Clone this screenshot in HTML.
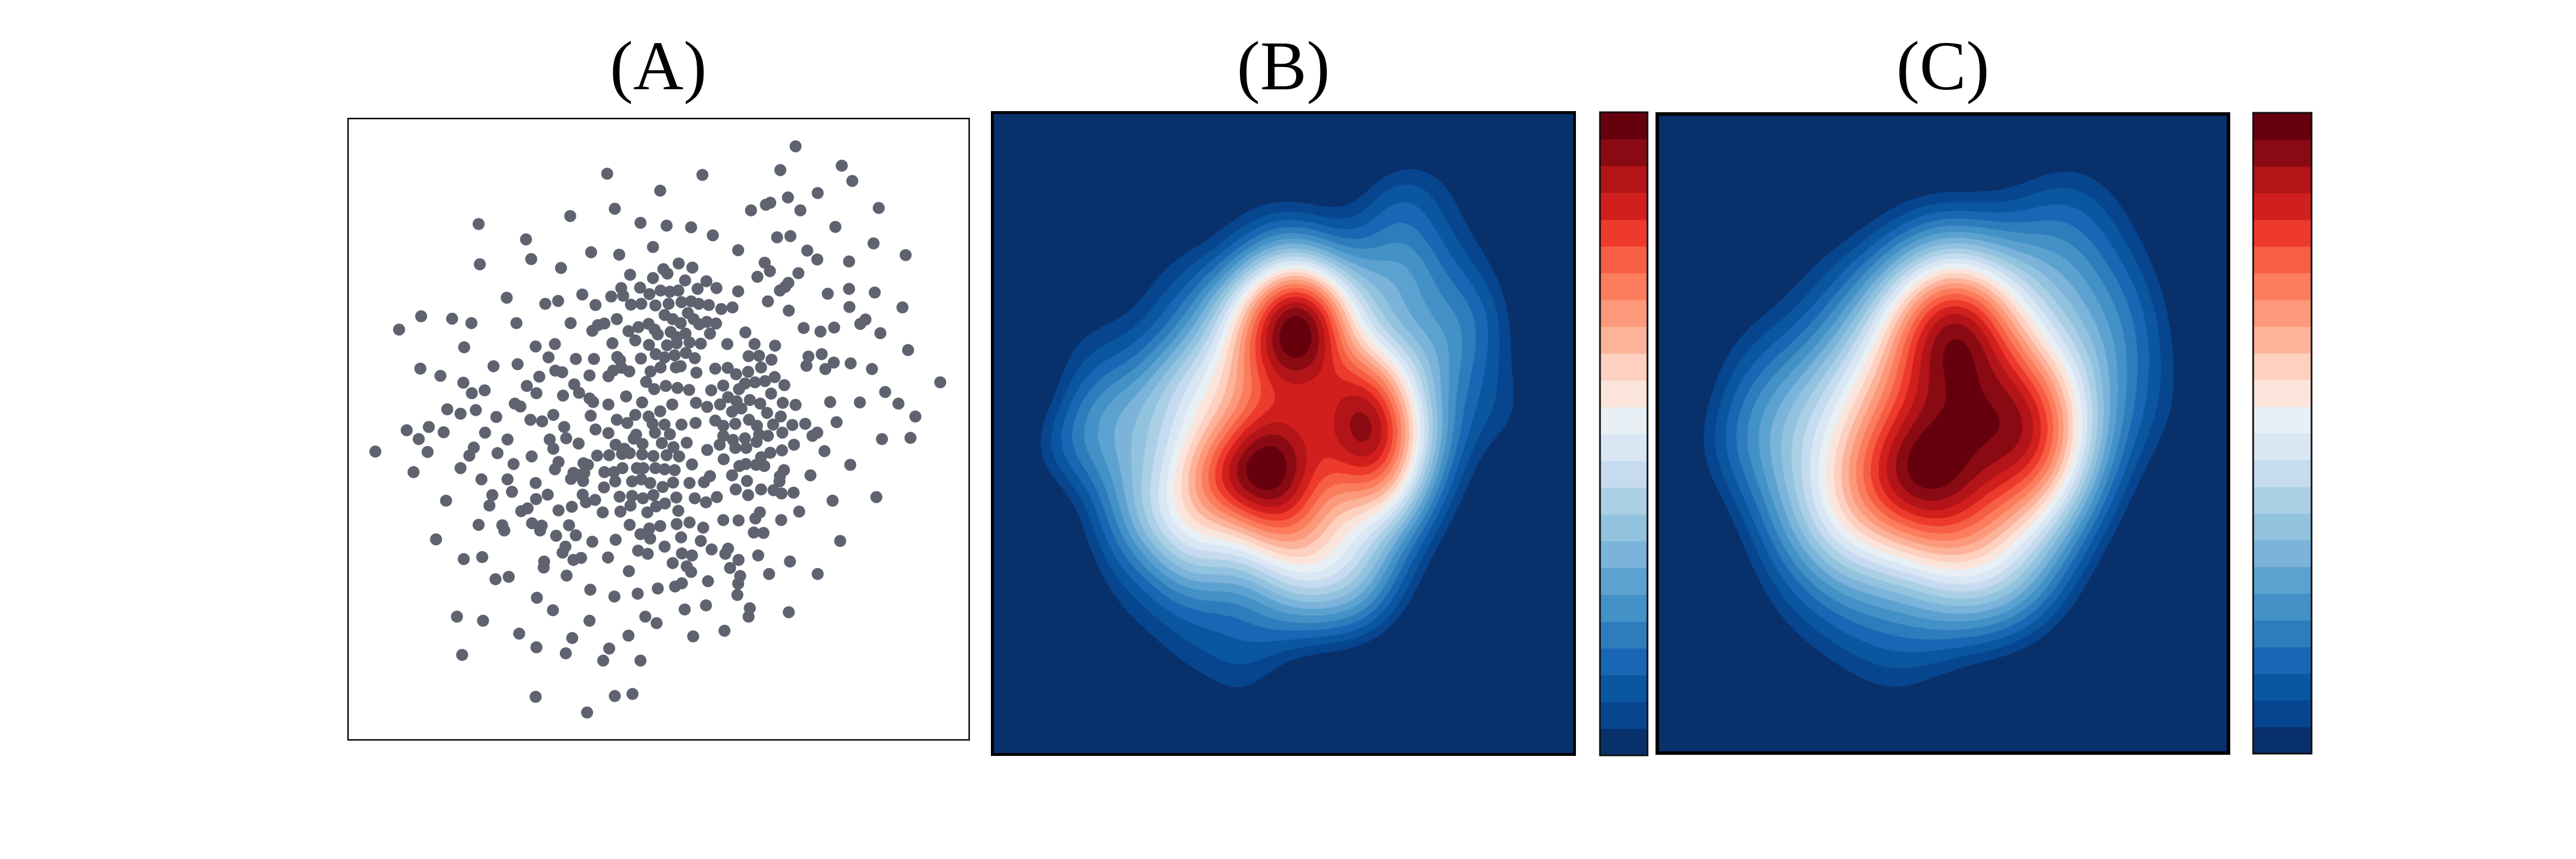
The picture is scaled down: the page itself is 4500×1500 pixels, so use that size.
<!DOCTYPE html>
<html><head><meta charset="utf-8"><style>
html,body{margin:0;padding:0;background:#fff;}
#root{position:relative;width:4500px;height:1500px;overflow:hidden;background:#fff;}
.title{position:absolute;font-family:"Liberation Serif",serif;font-size:122px;line-height:1;transform:translateX(-50%);color:#000;}
canvas{position:absolute;}
.frame{position:absolute;border:5px solid #000;box-sizing:border-box;}
</style></head><body>
<div id="root">
<div class="title" style="left:1150px;top:55px">(A)</div>
<div class="title" style="left:2242px;top:55px">(B)</div>
<div class="title" style="left:3394px;top:55px">(C)</div>
<svg id="svgA" width="4500" height="1500" style="position:absolute;left:0;top:0"></svg>
<canvas id="cB" width="1022" height="1126" style="left:1731px;top:194px"></canvas>
<div class="frame" style="left:1731px;top:194px;width:1022px;height:1126px"></div>
<canvas id="cC" width="1004" height="1122" style="left:2892px;top:196px"></canvas>
<div class="frame" style="left:2892px;top:196px;width:1004px;height:1122px;border-width:6px"></div>
</div>
<script>
const xs=[1126,657,894,1088,1241,1267,789,1181,1107,1063,1052,676,1015,1138,1333,565,740,337,805,866,1225,920,1080,1113,455,771,983,1320,617,687,1155,1180,1400,468,340,542,1259,835,869,797,807,1049,1062,714,1133,1031,771,851,904,1108,1100,1087,692,739,762,790,813,834,882,929,983,1206,1259,1323,407,595,667,697,503,535,628,716,742,777,810,842,866,885,910,941,969,1057,1109,1260,1392,194,271,319,431,139,566,681,620,634,650,710,735,760,775,800,820,840,858,872,886,905,928,913,1146,1188,1222,1287,1300,1337,1001,815,783,852,830,
301,479,527,670,727,761,806,830,862,890,956,1024,1075,1158,1191,1406,511,579,624,682,689,741,778,800,825,853,875,1009,1035,1066,1153,1221,1263,1316,1200,192,374,434,242,528,545,613,660,672,693,712,765,790,828,840,879,926,957,978,1008,1040,1074,1486,299,488,457,575,754,803,832,861,916,946,985,1000,1025,1050,1098,1349,320,352,481,547,587,613,704,774,958,1065,
427,441,660,622,744,819,878,906,938,979,1012,1038,1094,1126,1212,1286,1382,259,292,330,381,466,495,523,616,681,707,727,760,789,968,991,1055,1089,1424,158,213,250,188,353,409,550,628,660,729,770,800,842,877,926,946,976,1010,1030,1070,1118,1150,1228,1180,1168,1057,1093,1341,1412,514,555,586,723,776,813,855,946,970,1000,1035,80,210,325,384,523,678,700,745,793,822,906,937,976,1003,1029,1092,1122,1198,
314,469,632,662,694,713,744,772,805,836,947,1040,1063,1262,175,292,424,536,527,598,609,584,600,650,674,695,731,747,777,800,825,868,986,1002,1028,1048,1097,1163,344,409,479,573,567,597,649,677,719,742,764,795,821,862,898,913,968,1005,1087,1086,256,371,420,480,509,596,627,604,688,719,746,772,829,875,903,930,977,1008,1040,1071,1091,1121,1218,1327,
364,443,459,536,569,646,690,715,757,779,801,834,1037,1026,1135,337,396,470,494,530,562,579,620,678,713,740,762,789,830,862,896,946,984,1090,1022,1046,231,401,490,553,764,800,841,890,917,958,1237,300,346,500,546,573,592,659,734,758,820,843,868,951,984,1033,1112,379,412,499,556,711,855,866,963,988,1060,1181,
615,675,733,783,826,843,908,983,981,482,522,850,903,1012,1009,1109,283,348,613,752,780,438,570,710,871,949,296,481,554,662,647,740,479,676,720,607];
const ys=[81,149,152,140,129,167,191,197,208,221,226,236,240,240,234,254,271,274,278,282,281,302,307,304,312,331,339,322,344,350,340,362,351,361,374,383,367,372,382,386,397,370,391,400,396,405,408,414,416,420,430,439,433,432,448,439,442,439,435,433,441,447,435,444,457,449,454,452,472,465,475,474,472,476,472,468,466,472,475,485,481,466,489,480,481,503,509,520,520,536,520,510,539,525,521,540,530,522,536,500,510,520,495,510,523,517,521,546,532,541,531,522,511,545,543,542,548,546,555,
580,578,572,570,563,574,575,570,568,571,572,572,576,603,597,587,605,609,609,604,612,608,597,605,600,594,607,602,601,611,626,618,620,634,634,633,627,622,651,638,642,650,652,638,631,640,640,630,630,627,643,633,631,647,641,630,654,667,668,653,676,672,666,676,681,686,687,675,684,670,667,664,674,691,694,687,694,700,693,707,702,684,704,695,
720,727,722,716,717,722,718,728,722,714,711,720,718,723,716,717,720,734,745,736,753,760,764,748,750,760,768,748,752,739,740,732,743,752,752,786,778,791,808,792,809,778,784,793,797,770,772,772,768,762,775,770,760,775,772,773,770,766,792,800,800,792,808,805,809,806,819,807,792,796,817,800,810,806,797,839,840,829,843,832,822,832,820,818,828,835,822,830,830,815,836,822,838,
849,851,849,848,845,843,846,850,848,851,858,853,842,872,890,880,870,865,883,868,872,897,892,890,890,880,880,880,880,883,885,871,875,870,872,875,885,898,908,908,917,892,907,912,928,913,913,908,917,927,916,917,915,900,898,912,900,913,961,947,939,957,946,946,959,965,951,949,955,947,953,955,965,952,933,947,933,935,943,941,961,952,
973,987,980,985,976,990,988,973,990,975,968,986,990,1005,988,1021,1022,1017,1023,1048,1022,1047,1063,1058,1021,1044,1030,1024,1019,1015,1028,1009,1010,1009,1040,1041,1057,1035,1035,1075,1055,1075,1052,1061,1082,1080,1061,1106,1101,1112,1090,1108,1103,1102,1085,1093,1116,1092,1097,1093,1108,1097,1112,1156,1150,1127,1147,1136,1124,1138,1128,1148,1143,1143,
1182,1199,1192,1179,1174,1166,1161,1167,1195,1202,1233,1231,1221,1228,1249,1238,1249,1259,1259,1249,1265,1291,1302,1296,1298,1284,1344,1325,1340,1328,1358,1358,1448,1446,1441,1487];
const bandColorsHex=['#08306b','#08458f','#0a56a0','#1967b4','#2f7cbc','#4391c6','#5ca2d0','#7bb3da','#92c3de','#abd0e6','#c6dbef','#d9e7f4','#e8f0f6','#fbe5da','#fdd0bf','#fcb39a','#fc997a','#fb7d5d','#f75f45','#ee3a2c','#d11f1d','#b31417','#8a0a14','#67000d'];
const nBands=24;
function sx(v){return 608+(v-12)/1546*1085;}
function sy(v){return 207+(v-12)/1543*1085;}
const NS='http://www.w3.org/2000/svg';
const svg=document.getElementById('svgA');
const frameA=document.createElementNS(NS,'rect');
frameA.setAttribute('x',608);frameA.setAttribute('y',207);frameA.setAttribute('width',1085);frameA.setAttribute('height',1085);
frameA.setAttribute('fill','#fff');frameA.setAttribute('stroke','#000');frameA.setAttribute('stroke-width',2.5);


svg.appendChild(frameA);
for(let i=0;i<xs.length;i++){
  const c=document.createElementNS(NS,'circle');
  c.setAttribute('cx',sx(xs[i]).toFixed(1));c.setAttribute('cy',sy(ys[i]).toFixed(1));c.setAttribute('r',10.5);c.setAttribute('fill','#5f6370');
  
  
  svg.appendChild(c);
}
function colorbar(x,y,w,h,name){
  const bh=h/nBands;
  for(let i=0;i<nBands;i++){
    const r=document.createElementNS(NS,'rect');
    r.setAttribute('x',x);r.setAttribute('y',(y+h-(i+1)*bh).toFixed(2));r.setAttribute('width',w);r.setAttribute('height',(bh+0.6).toFixed(2));
    r.setAttribute('fill',bandColorsHex[i]);
    
    
    svg.appendChild(r);
  }
  const f=document.createElementNS(NS,'rect');
  f.setAttribute('x',x);f.setAttribute('y',y);f.setAttribute('width',w);f.setAttribute('height',h);
  f.setAttribute('fill','none');f.setAttribute('stroke','#111');f.setAttribute('stroke-width',3);
  
  
  svg.appendChild(f);
}
colorbar(2795,196,83,1123,'colorbar-b');
colorbar(3936,197,102,1119,'colorbar-c');
function hex2rgb(h){return [parseInt(h.substr(1,2),16),parseInt(h.substr(3,2),16),parseInt(h.substr(5,2),16)];}
const rgbs=bandColorsHex.map(hex2rgb);
function kde(id,bw,t0,topf){
  const cv=document.getElementById(id);const W=cv.width,H=cv.height;
  const gw=240,gh=260;const g=new Float32Array(gw*gh);
  const pu=xs.map(v=>(v-12)/1546),pv=ys.map(v=>(v-12)/1543);
  const k=1/(2*bw*bw);let mx=0;
  for(let j=0;j<gh;j++){const v=j/(gh-1);for(let i=0;i<gw;i++){const u=i/(gw-1);let s=0;
    for(let p=0;p<pu.length;p++){const du=u-pu[p],dv=v-pv[p];const d=(du*du+dv*dv)*k;if(d<12)s+=Math.exp(-d);}
    g[j*gw+i]=s;if(s>mx)mx=s;}}
  const ctx=cv.getContext('2d');const img=ctx.createImageData(W,H);const D=img.data;
  const top=mx*topf;
  for(let y=0;y<H;y++){const fy=y/(H-1)*(gh-1);const j0=Math.min(gh-2,Math.floor(fy));const ty=fy-j0;
    for(let x=0;x<W;x++){const fx=x/(W-1)*(gw-1);const i0=Math.min(gw-2,Math.floor(fx));const tx=fx-i0;
      const a=g[j0*gw+i0],b=g[j0*gw+i0+1],c=g[(j0+1)*gw+i0],d=g[(j0+1)*gw+i0+1];
      const val=(a*(1-tx)+b*tx)*(1-ty)+(c*(1-tx)+d*tx)*ty;
      const r=(val/top-t0)/(1-t0);
      let bi=Math.floor(r*(nBands-1))+1;if(r<=0)bi=0;if(bi>nBands-1)bi=nBands-1;
      const col=rgbs[bi];const o=(y*W+x)*4;D[o]=col[0];D[o+1]=col[1];D[o+2]=col[2];D[o+3]=255;}}
  ctx.putImageData(img,0,0);
}
kde('cB',0.055,0.16,1.0);
kde('cC',0.072,0.16,1.0);
</script>
</body></html>
